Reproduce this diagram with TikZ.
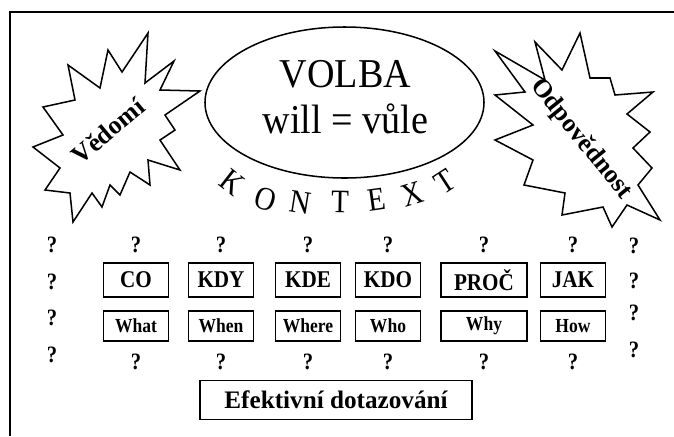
\documentclass[tikz,border=0pt]{standalone}
\usepackage{fontspec}
\setmainfont{Liberation Serif}
\newfontfamily\narrowserif[FakeStretch=0.88]{Liberation Serif}
\newfontfamily\volbaserif[FakeStretch=0.93]{Liberation Serif}
\usepackage{tikz}
\usetikzlibrary{shapes.geometric}

\begin{document}
\begin{tikzpicture}[x=0.03cm, y=-0.03cm,
  box/.style={draw, line width=1.5pt, inner sep=0pt, minimum width=1.95cm},
  bigbox/.style={box, minimum height=1.02cm, font=\narrowserif\fontsize{20.5}{20.5}\selectfont\bfseries},
  smallbox/.style={box, minimum height=0.9cm, font=\narrowserif\fontsize{17}{17}\selectfont\bfseries},
  qm/.style={inner sep=0pt, font=\narrowserif\fontsize{20}{20}\selectfont\bfseries},
  burst/.style={draw, line width=1.3pt, line join=miter},
  burstlabel/.style={inner sep=0pt, font=\fontsize{22}{22}\selectfont\bfseries},
  letter/.style={inner sep=0pt, font=\narrowserif\fontsize{28}{28}\selectfont}]
\useasboundingbox (0,0) rectangle (674,436);

\draw[line width=1.9pt] (674,12) -- (10,12) -- (10,436);

\node[ellipse, draw, line width=1.3pt, minimum width=8.37cm, minimum height=4.53cm] (VOLBA) at (344.5,102.5) {};
\node[align=center, inner sep=0pt, font=\volbaserif\fontsize{35}{39}\selectfont] (WILL) at (345.5,97) {VOLBA\\will = vůle};

\draw[burst] (148,33) -- (145,83) -- (174,61) -- (160,90) -- (200,91) -- (165,115) -- (175,130)
  -- (160,140) -- (180,170) -- (148,160) -- (150,185) -- (130,172) -- (120,195) -- (110,185)
  -- (102,207) -- (92,193) -- (73,222) -- (70,193) -- (45,190) -- (60,168) -- (33,147)
  -- (63,135) -- (43,107) -- (75,100) -- (68,65) -- (100,88) -- (108,50) -- (122,72) -- cycle;
\node[burstlabel, rotate=40] (V) at (108,131) {Vědomí};

\draw[burst] (495,51) -- (545,80) -- (535,42) -- (562,70) -- (580,33) -- (590,78) -- (610,78)
  -- (615,95) -- (653,92) -- (627,114) -- (650,132) -- (633,148) -- (652,168) -- (638,185)
  -- (660,220) -- (627,205) -- (612,227) -- (603,207) -- (562,215) -- (565,193) -- (524,185)
  -- (533,160) -- (495,140) -- (533,125) -- (495,95) -- (525,92) -- cycle;
\node[burstlabel, rotate=-51] (O) at (581,139) {Odpovědnost};

\node[letter, rotate=-38] (K1) at (232,182) {K};
\node[letter, rotate=-17] (K2) at (266,199) {O};
\node[letter, rotate=-9] (K3) at (300,203) {N};
\node[letter, rotate=-1] (K4) at (340,202) {T};
\node[letter, rotate=8] (K5) at (377,200) {E};
\node[letter, rotate=17] (K6) at (412,194) {X};
\node[letter, rotate=33] (K7) at (445,182) {T};

\node[qm] (L1) at (52,245) {?};
\node[qm] (L2) at (52,282) {?};
\node[qm] (L3) at (52,318) {?};
\node[qm] (L4) at (52,355) {?};

\node[qm] (R1) at (634,246) {?};
\node[qm] (R2) at (634,281) {?};
\node[qm] (R3) at (634,313) {?};
\node[qm] (R4) at (634,350) {?};

\node[qm] (A1) at (136,245) {?};
\node[qm] (B1) at (221,245) {?};
\node[qm] (C1) at (308,245) {?};
\node[qm] (D1) at (388,245) {?};
\node[qm] (E1) at (484,245) {?};
\node[qm] (F1) at (573,245) {?};

\node[bigbox] (CO) at (136,280) {CO};
\node[bigbox] (KDY) at (221,280) {KDY};
\node[bigbox] (KDE) at (308,280) {KDE};
\node[bigbox] (KDO) at (388,280) {KDO};
\node[bigbox, minimum width=2.58cm] (PROC) at (484,280) {PROČ};
\node[bigbox] (JAK) at (573,280) {JAK};

\node[smallbox] (What) at (136,326) {What};
\node[smallbox] (When) at (221,326) {When};
\node[smallbox] (Where) at (308,326) {Where};
\node[smallbox] (Who) at (388,326) {Who};
\node[smallbox, minimum width=2.58cm] (Why) at (484,326) {Why};
\node[smallbox] (How) at (573,326) {How};

\node[qm] (A2) at (136,362) {?};
\node[qm] (B2) at (221,362) {?};
\node[qm] (C2) at (308,362) {?};
\node[qm] (D2) at (388,362) {?};
\node[qm] (E2) at (484,362) {?};
\node[qm] (F2) at (573,362) {?};

\node[box, minimum width=8.16cm, minimum height=1.17cm, font=\fontsize{21.5}{21.5}\selectfont\bfseries]
  (EF) at (336,400) {Efektivní dotazování};
\end{tikzpicture}
\end{document}
